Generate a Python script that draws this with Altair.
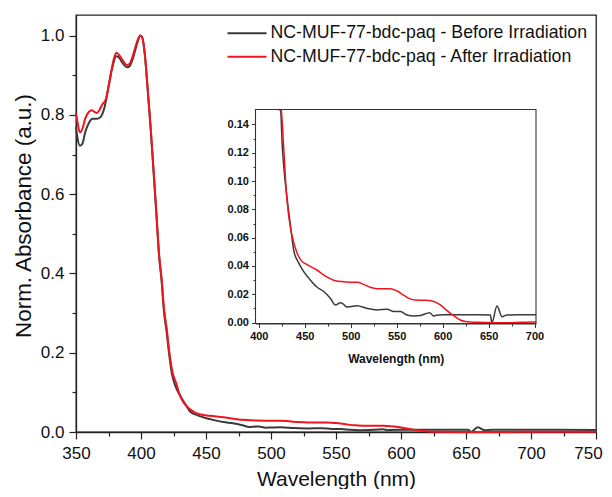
import altair as alt
import pandas as pd

# ---------------- data ----------------
before_label = "NC-MUF-77-bdc-paq - Before Irradiation"
after_label = "NC-MUF-77-bdc-paq - After Irradiation"

wl_before = [350, 351, 353, 355, 357, 360, 363, 366, 369, 372, 375, 378, 381, 383, 386,
             389, 391, 394, 397, 399.5, 401, 403, 405, 407.5, 410, 412, 414, 415.9, 417.5,
             419.8, 421.5, 423.6, 425.5, 427.2, 430.9, 434.5, 438, 443.5, 448.9, 456.2,
             463.5, 470.7, 478, 483.4, 488.8, 490.6, 496, 499.7, 507, 518, 528.7, 539.6,
             546.7, 554, 561.3, 568.6, 575.8, 577.6, 585.9, 590.2, 592, 600, 620, 640,
             651.9, 653.6, 659.1, 664.6, 670, 685, 700, 720, 750]
abs_before = [0.770, 0.745, 0.722, 0.728, 0.755, 0.780, 0.790, 0.790, 0.795, 0.820, 0.870,
              0.920, 0.948, 0.945, 0.930, 0.920, 0.922, 0.945, 0.980, 1.000, 0.995, 0.950,
              0.870, 0.762, 0.640, 0.540, 0.440, 0.380, 0.310, 0.250, 0.200, 0.150, 0.125,
              0.110, 0.087, 0.068, 0.051, 0.042, 0.036, 0.030, 0.025, 0.022, 0.017, 0.0125,
              0.014, 0.0137, 0.011, 0.0113, 0.012, 0.010, 0.009, 0.0095, 0.0078, 0.0078,
              0.0054, 0.0047, 0.0050, 0.0054, 0.0070, 0.0047, 0.0050, 0.0055, 0.0055,
              0.0055, 0.0054, 0.0000, 0.0118, 0.0042, 0.0054, 0.0055, 0.0055, 0.0055, 0.0050]

wl_after = [350, 351, 353, 355, 357, 360, 362, 364, 366, 368, 370, 373, 376, 379, 381, 383,
            386, 389, 391, 394, 397, 399.5, 401, 403, 405, 407.5, 410, 412, 414, 415.9,
            417.5, 419.8, 421.5, 423.6, 424.3, 427.2, 430.1, 432.6, 436.3, 441.7, 446,
            452.6, 463.5, 472, 481.5, 490, 499.7, 507, 514, 521, 528.7, 543.2, 550, 557.6,
            564, 570.3, 580, 586.6, 592, 597.5, 603, 608.4, 614, 619.2, 625, 630, 640, 655,
            670, 685, 700, 720, 750]
abs_after = [0.804, 0.785, 0.756, 0.765, 0.790, 0.808, 0.812, 0.808, 0.805, 0.812, 0.825,
             0.840, 0.890, 0.940, 0.957, 0.952, 0.937, 0.926, 0.928, 0.952, 0.985, 1.000,
             0.995, 0.952, 0.872, 0.765, 0.645, 0.545, 0.445, 0.385, 0.318, 0.260, 0.210,
             0.162, 0.150, 0.122, 0.091, 0.075, 0.061, 0.049, 0.044, 0.041, 0.037, 0.033,
             0.030, 0.029, 0.0285, 0.0285, 0.027, 0.025, 0.024, 0.024, 0.0225, 0.0195,
             0.017, 0.016, 0.0158, 0.0155, 0.0145, 0.0125, 0.0095, 0.0066, 0.0040, 0.0019,
             0.0008, 0.0005, 0.0002, 0.0000, 0.0000, 0.0003, 0.0005, 0.0005, 0.0005]

main_x_ticks = list(range(350, 751, 25))
main_y_ticks = [0.0, 0.1, 0.2, 0.3, 0.4, 0.5, 0.6, 0.7, 0.8, 0.9, 1.0]
inset_x_ticks = list(range(400, 701, 25))
inset_y_ticks = [0.00, 0.01, 0.02, 0.03, 0.04, 0.05, 0.06, 0.07, 0.08, 0.09, 0.10,
                 0.11, 0.12, 0.13, 0.14]

BLACK = "#3a3a3a"
RED = "#f0141e"
FONT = "Liberation Sans"

main_df = pd.concat([
    pd.DataFrame({"wl": wl_before, "v": abs_before, "series": before_label}),
    pd.DataFrame({"wl": wl_after, "v": abs_after, "series": after_label}),
])

INSET_X = [396.4, 701.6]
INSET_Y = [-0.0006, 0.1505]


def inset_part(wl, v, label):
    idx = [i for i, (w, a) in enumerate(zip(wl, v)) if w >= INSET_X[0] and a <= INSET_Y[1]]
    start = max(idx[0] - 1, 0)
    last = [i for i, w in enumerate(wl) if w <= INSET_X[1]][-1]
    end = min(last + 1, len(wl) - 1)
    return pd.DataFrame({"wl": wl[start:end + 1], "v": v[start:end + 1], "series": label})


inset_df = pd.concat([inset_part(wl_before, abs_before, before_label),
                      inset_part(wl_after, abs_after, after_label)])

# ---------------- scales / axes ----------------
W, H = 520, 417
main_x = alt.Scale(domain=[350, 750], nice=False, zero=False)
main_y = alt.Scale(domain=[0, 1.052], nice=False)
inset_x = alt.Scale(domain=INSET_X, range=[179.5, 460], nice=False, zero=False, clamp=True)
inset_y = alt.Scale(domain=INSET_Y, range=[308.5, 94.5], nice=False, zero=False, clamp=True)

color_scale = alt.Scale(domain=[before_label, after_label], range=[BLACK, RED])

main_x_axis = alt.Axis(
    values=main_x_ticks, title="Wavelength (nm)", orient="bottom",
    labelExpr="datum.value % 50 === 0 ? format(datum.value, 'd') : ''",
    tickSize={"condition": {"test": "datum.value % 50 === 0", "value": 7}, "value": 4},
    labelOffset={"condition": {"test": "datum.value === 750", "value": -8}, "value": 0},
    labelFontSize=17, titleFontSize=21, titleFontWeight="normal", labelFlush=False,
    labelOverlap=False, labelPadding=6, titlePadding=7, domainColor="#222",
    tickColor="#222", domainWidth=1.3, tickWidth=1.2, labelColor="#111", titleColor="#111",
    grid=False, labelFont=FONT, titleFont=FONT)
main_y_axis = alt.Axis(
    values=main_y_ticks, title="Norm. Absorbance (a.u.)", orient="left",
    labelExpr="round(datum.value * 10) % 2 === 0 ? format(datum.value, '.1f') : ''",
    tickSize={"condition": {"test": "round(datum.value * 10) % 2 === 0", "value": 7}, "value": 4},
    labelFontSize=17, titleFontSize=22.4, titleFontWeight="normal", labelFlush=False,
    labelOverlap=False, labelPadding=5, titlePadding=5, titleY=200.5, domainColor="#222",
    tickColor="#222", domainWidth=1.3, tickWidth=1.2, labelColor="#111", titleColor="#111",
    grid=False, labelFont=FONT, titleFont=FONT)

inset_x_axis = alt.Axis(
    values=inset_x_ticks, title="Wavelength (nm)", orient="bottom", offset=-(H - 308.5),
    labelExpr="datum.value % 50 === 0 ? format(datum.value, 'd') : ''",
    tickSize={"condition": {"test": "datum.value % 50 === 0", "value": 4}, "value": 2.5},
    labelFontSize=11, labelFontWeight="bold", titleFontSize=12, titleFontWeight="bold",
    labelFlush=False, labelOverlap=False, labelPadding=3, titlePadding=12,
    domainColor="#333", tickColor="#333", domainWidth=1, tickWidth=1,
    labelColor="#111", titleColor="#111", grid=False, labelFont=FONT, titleFont=FONT)
inset_y_axis = alt.Axis(
    values=inset_y_ticks, title=None, orient="left", offset=-179.5,
    labelExpr="round(datum.value * 100) % 2 === 0 ? format(datum.value, '.2f') : ''",
    tickSize={"condition": {"test": "round(datum.value * 100) % 2 === 0", "value": 4}, "value": 2.5},
    labelFontSize=11, labelFontWeight="bold", labelFlush=False, labelOverlap=False,
    labelPadding=3, domainColor="#333", tickColor="#333", domainWidth=1, tickWidth=1,
    labelColor="#111", grid=False, labelFont=FONT)

legend = alt.Legend(
    title=None, orient="none", legendX=150.5, legendY=8.5, symbolType="stroke",
    symbolSize=1521, symbolStrokeWidth=2, labelFontSize=17.7, labelFont=FONT,
    labelColor="#111", labelOffset=3, clipHeight=19.7, rowPadding=3.5, padding=0,
    labelLimit=400)

# ---------------- main layers ----------------
base_main = alt.Chart(main_df)


def main_line(label):
    return base_main.transform_filter(alt.datum.series == label).mark_line(
        strokeWidth=2, interpolate="monotone").encode(
        x=alt.X("wl:Q", scale=main_x, axis=main_x_axis),
        y=alt.Y("v:Q", scale=main_y, axis=main_y_axis),
        color=alt.Color("series:N", scale=color_scale, legend=legend,
                        sort=[before_label, after_label]),
    )


main_group = alt.layer(main_line(before_label), main_line(after_label))

# ---------------- inset layers ----------------
frame_src = alt.Chart(pd.DataFrame({"x0": [INSET_X[0]], "x1": [INSET_X[1]],
                                    "y0": [INSET_Y[0]], "y1": [INSET_Y[1]]}))
inset_bg = frame_src.mark_rect(fill="white", strokeWidth=0).encode(
    x=alt.X("x0:Q", scale=inset_x, axis=inset_x_axis),
    x2="x1:Q",
    y=alt.Y("y0:Q", scale=inset_y, axis=inset_y_axis),
    y2="y1:Q",
)
inset_frame = frame_src.mark_rect(fill=None, stroke="#333", strokeWidth=1.1).encode(
    x=alt.X("x0:Q", scale=inset_x, axis=inset_x_axis),
    x2="x1:Q",
    y=alt.Y("y0:Q", scale=inset_y, axis=inset_y_axis),
    y2="y1:Q",
)


def inset_line(label, colr):
    return alt.Chart(inset_df).transform_filter(alt.datum.series == label).mark_line(
        strokeWidth=1.5, color=colr, interpolate="monotone").encode(
        x=alt.X("wl:Q", scale=inset_x, axis=inset_x_axis),
        y=alt.Y("v:Q", scale=inset_y, axis=inset_y_axis),
    )


inset_group = alt.layer(inset_bg, inset_line(before_label, BLACK),
                        inset_line(after_label, RED), inset_frame)

chart = alt.layer(main_group, inset_group).resolve_scale(
    x="independent", y="independent"
).properties(
    width=W, height=H,
    padding={"left": 68, "top": 7, "right": 8, "bottom": 57},
    autosize=alt.AutoSizeParams(type="none"),
    background="white",
).configure_view(stroke="#222", strokeWidth=1.3)

chart.save("out.html", embed_options={"renderer": "svg", "actions": False})
